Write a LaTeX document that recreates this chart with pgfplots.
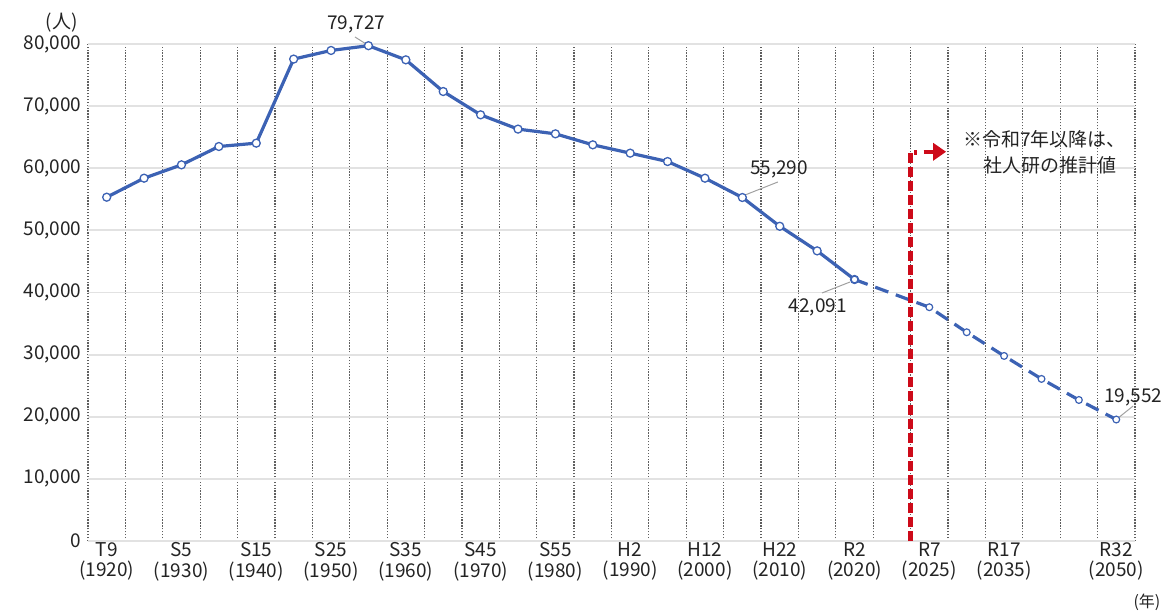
\documentclass[border=0pt]{standalone}
\usepackage{fontspec}
\setmainfont{Noto Sans CJK JP}
\usepackage{pgfplots}
\pgfplotsset{compat=1.18}
\usetikzlibrary{arrows.meta}

\definecolor{lineblue}{RGB}{60,98,180}
\definecolor{gridgray}{RGB}{226,226,226}
\definecolor{dotgray}{RGB}{95,95,95}
\definecolor{markred}{RGB}{205,10,25}
\definecolor{txt}{RGB}{35,35,35}
\definecolor{leader}{RGB}{160,160,160}

\begin{document}
\begin{tikzpicture}
\useasboundingbox (-88pt,-72pt) rectangle (1084pt,541pt);
\begin{axis}[
    at={(0pt,0pt)}, anchor=south west,
    scale only axis, width=1047pt, height=497pt,
    xmin=-0.5, xmax=27.5, ymin=0, ymax=80000,
    axis line style={draw=none},
    major tick length=0pt, minor tick length=0pt,
    clip=false,
    font=\fontsize{19}{20.5}\selectfont,
    % categories: 1920..2020 every 5 years at 0..20, gap at 21, 2025..2050 at 22..27
    xtick={0,2,4,6,8,10,12,14,16,18,20,22,24,27},
    xticklabels={{T9\\(1920)},{S5\\(1930)},{S15\\(1940)},{S25\\(1950)},
        {S35\\(1960)},{S45\\(1970)},{S55\\(1980)},{H2\\(1990)},{H12\\(2000)},
        {H22\\(2010)},{R2\\(2020)},{R7\\(2025)},{R17\\(2035)},{R32\\(2050)}},
    xticklabel style={align=center, text=txt, yshift=2pt},
    minor xtick={-0.5,0.5,...,27.5},
    xminorgrids,
    minor x grid style={dotgray, line width=1.2pt, dash pattern=on 1.3pt off 1.6pt},
    ytick={0,10000,...,80000},
    ymajorgrids,
    major y grid style={gridgray, line width=1.8pt},
    scaled y ticks=false,
    yticklabel style={text=txt, xshift=-3pt,
        /pgf/number format/fixed, /pgf/number format/1000 sep={,},
        /pgf/number format/assume math mode=true},
]
% census values
\addplot[lineblue, line width=3.2pt, mark=*, mark size=4pt,
    mark options={fill=white, draw=lineblue, line width=1.3pt}] coordinates {
    (0,55340) (1,58400) (2,60550) (3,63500) (4,64040) (5,77570) (6,78960)
    (7,79727) (8,77450) (9,72350) (10,68600) (11,66300) (12,65540) (13,63770)
    (14,62430) (15,61080) (16,58400) (17,55290) (18,50660) (19,46700) (20,42091)
};
% projection
\addplot[lineblue, line width=3.2pt, dash pattern=on 14pt off 8pt, mark=*, mark size=3.4pt,
    mark options={solid, fill=white, draw=lineblue, line width=1.2pt}] coordinates {
    (20,42091) (22,37630) (23,33600) (24,29790) (25,26090) (26,22700) (27,19552)
};

% boundary of projection
\draw[markred, line width=5pt, dash pattern=on 10pt off 4pt]
    (axis cs:21.5,0) -- (axis cs:21.5,62500) -- (axis cs:21.68,62500);
\draw[markred, line width=4.5pt, -{Triangle[length=13pt,width=17pt]}]
    (axis cs:21.85,62650) -- (axis cs:22.45,62650);
\node[anchor=west, text=txt, inner sep=0pt] at (axis cs:22.9,64710) {※令和7年以降は、};
\node[anchor=west, text=txt, inner sep=0pt] at (axis cs:23.45,60520) {社人研の推計値};

% value labels
\draw[leader, line width=1pt] (axis cs:6.64,81130) -- (axis cs:6.99,79800);
\node[text=txt, inner sep=0pt] at (axis cs:6.67,83220) {79,727};
\draw[leader, line width=1pt] (axis cs:17.07,55690) -- (axis cs:17.95,57790);
\node[text=txt, inner sep=0pt] at (axis cs:17.98,59880) {55,290};
\draw[leader, line width=1pt] (axis cs:19.13,39920) -- (axis cs:19.88,41690);
\node[text=txt, inner sep=0pt] at (axis cs:19.02,37670) {42,091};
\draw[leader, line width=1pt] (axis cs:27.05,19800) -- (axis cs:27.45,21730);
\node[text=txt, inner sep=0pt] at (axis cs:27.45,23180) {19,552};

% units
\node[text=txt, inner sep=0pt] at (axis cs:-1.2,83380) {(人)};
\node[text=txt, inner sep=0pt, font=\fontsize{16}{18}\selectfont] at (axis cs:27.82,-9820) {(年)};
\end{axis}
\end{tikzpicture}
\end{document}
